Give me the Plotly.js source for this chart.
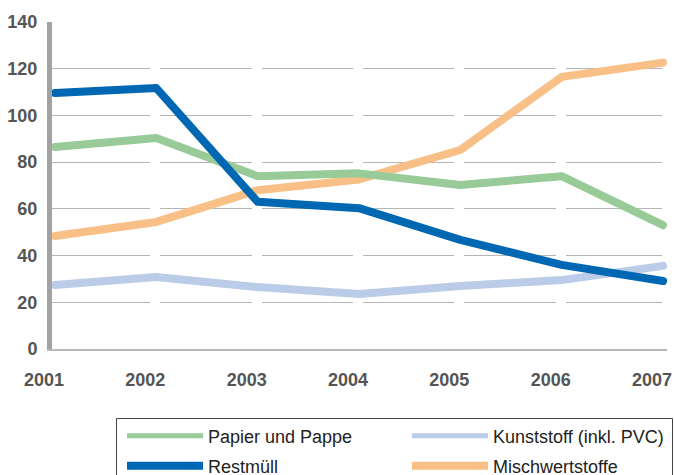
<!DOCTYPE html>
<html>
<head>
<meta charset="utf-8">
<script src="https://cdn.plot.ly/plotly-3.0.1.min.js"></script>
<style>
  html, body { margin: 0; padding: 0; background: #fff; }
  #chart { width: 674px; height: 475px; }
  .scatterlayer .js-line { stroke-linecap: round; stroke-linejoin: round; }
  .legend .legendlines path { stroke-width: 5px !important; stroke-linecap: butt !important; }
</style>
</head>
<body>
<div id="chart"></div>
<script>
// ---- data ----
const years = [2001, 2002, 2003, 2004, 2005, 2006, 2007];
const yearLabels = ['2001', '2002', '2003', '2004', '2005', '2006', '2007'];
const papierUndPappe = [86.5, 90.3, 74, 75.2, 70.2, 74, 53];
const restmuell = [109.6, 111.7, 63, 60.3, 46.7, 36, 29.1];
const kunststoff = [27.4, 30.8, 26.5, 23.5, 27, 29.5, 35.6];
const mischwertstoffe = [48.4, 54.4, 68, 72.6, 85.2, 116.5, 122.6];
const yTicks = [0, 20, 40, 60, 80, 100, 120, 140];

// ---- geometry / style ----
const W = 674, H = 475;
const mL = 52, mR = 7, mT = 22, mB = 126;
const plotW = W - mL - mR, plotH = H - mT - mB;
const pxPerYear = 101.33;
const firstOffset = 3; // px from plot left to first year
const x0 = years[0] - firstOffset / pxPerYear;
const x1 = x0 + plotW / pxPerYear;
const xr = [x0, x1];

function xpx(v) { return (v - x0) * pxPerYear; }

// gridline dash with gaps at the year ticks
function gridDash() {
  const parts = [];
  let pos = 0;
  const gapW = 10;
  years.slice(1, -1).forEach(function (yr) {
    const c = xpx(yr) - 1;
    parts.push((c - gapW / 2 - pos).toFixed(1) + 'px');
    parts.push(gapW + 'px');
    pos = c + gapW / 2;
  });
  const end = 610;
  parts.push((end - pos).toFixed(1) + 'px');
  parts.push('100px');
  return parts.join(',');
}

const colGreen = '#99cb99';
const colBlue = '#0067b2';
const colLight = '#bacce8';
const colOrange = '#f8bf86';

const lineW = 8;
function tr(name, y, color, legend, rank) {
  return {
    type: 'scatter', mode: 'lines', name: name, x: years, y: y,
    line: { color: color, width: lineW },
    legend: legend, legendrank: rank, hoverinfo: 'skip'
  };
}

const data = [
  tr('Mischwertstoffe', mischwertstoffe, colOrange, 'legend2', 2),
  tr('Papier und Pappe', papierUndPappe, colGreen, 'legend', 1),
  tr('Kunststoff (inkl. PVC)', kunststoff, colLight, 'legend', 2),
  tr('Restmüll', restmuell, colBlue, 'legend2', 1)
];

const tickFont = { family: 'Liberation Sans, Arial, sans-serif', size: 18, color: '#555555', weight: 'bold' };
const legFont = { family: 'Liberation Sans, Arial, sans-serif', size: 18, color: '#222222' };

function py(px) { return (mT + plotH - px) / plotH; }
function pxp(px) { return (px - mL) / plotW; }

const legBase = {
  orientation: 'h', xanchor: 'left', yanchor: 'middle',
  font: legFont, itemwidth: 76, entrywidth: 194,
  bgcolor: 'rgba(0,0,0,0)', borderwidth: 0, itemclick: false, itemdoubleclick: false
};

const layout = {
  width: W, height: H,
  margin: { l: mL, r: mR, t: mT, b: mB, autoexpand: false },
  paper_bgcolor: '#ffffff', plot_bgcolor: '#ffffff',
  showlegend: true,
  xaxis: {
    range: xr, tickvals: years, ticktext: yearLabels,
    showgrid: false, zeroline: false,
    showline: true, linecolor: '#b8b8b8', linewidth: 1.5,
    ticks: '', tickfont: tickFont, ticklabelshift: -11, ticklabelstandoff: 14,
    fixedrange: true
  },
  xaxis2: {
    overlaying: 'x', anchor: 'y', side: 'bottom', range: xr,
    tickvals: years.slice(1), ticks: 'inside', ticklen: 7, tickwidth: 1, tickcolor: '#000000',
    showticklabels: false, showgrid: false, zeroline: false, showline: false, fixedrange: true
  },
  yaxis: {
    range: [0, 140], tickvals: yTicks, ticktext: yTicks.map(String),
    showgrid: true, gridcolor: '#b5b5b5', gridwidth: 1, griddash: gridDash(),
    zeroline: false, showline: true, linecolor: '#a2a2a2', linewidth: 5,
    ticks: '', tickfont: tickFont, ticklabelstandoff: 6, fixedrange: true
  },
  legend: Object.assign({}, legBase, { x: pxp(122), y: py(436) }),
  legend2: Object.assign({}, legBase, { x: pxp(122), y: py(466) }),
  shapes: [{
    type: 'rect', xref: 'paper', yref: 'paper',
    x0: pxp(116.5), x1: pxp(672.5), y0: py(418.5), y1: py(490),
    line: { color: '#444444', width: 1 }, fillcolor: 'rgba(0,0,0,0)'
  }]
};

Plotly.newPlot('chart', data, layout, { displayModeBar: false, staticPlot: true });
</script>
</body>
</html>
